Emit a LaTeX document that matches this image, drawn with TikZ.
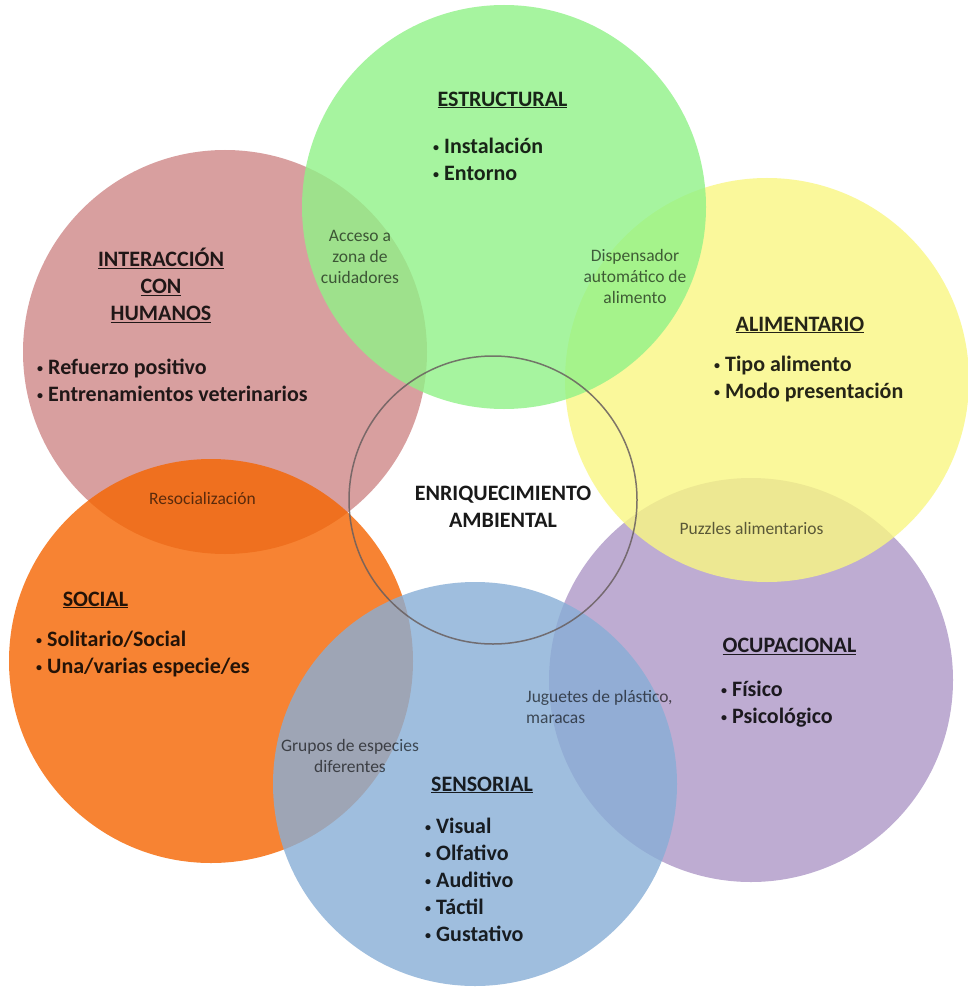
\documentclass[tikz,border=0pt]{standalone}
\usepackage{fontspec}
\setmainfont{Carlito}
\definecolor{cgreen}{RGB}{144,242,136}
\definecolor{cred}{RGB}{207,136,136}
\definecolor{cyellow}{RGB}{249,247,130}
\definecolor{corange}{RGB}{245,101,0}
\definecolor{cpurple}{RGB}{174,152,199}
\definecolor{cblue}{RGB}{136,174,214}
\definecolor{cline}{RGB}{105,95,95}
\newcommand{\bl}{\raisebox{2pt}{\fontsize{12}{12}\selectfont•}\hspace{5pt}}
\begin{document}
\begin{tikzpicture}[x=1pt,y=-1pt,
  blob/.style={circle, minimum size=404pt, inner sep=0pt, fill opacity=0.8},
  head/.style={font=\fontsize{22}{27}\selectfont\bfseries, text=black, text opacity=0.85, align=center},
  item/.style={font=\fontsize{22}{27}\selectfont\bfseries, text=black, text opacity=0.85, align=left, anchor=west, inner sep=0pt},
  note/.style={font=\fontsize{17.5}{21}\selectfont, text=black, text opacity=0.62, align=center}]
\useasboundingbox[fill=white] (0,0) rectangle (967,987);
\node[blob, fill=cred] (red) at (225,352) {};
\node[blob, fill=cpurple] (purple) at (751,680) {};
\node[blob, fill=cyellow] (yellow) at (767,380) {};
\node[blob, fill=cgreen] (green) at (504,207) {};
\node[blob, fill=corange] (orange) at (211,661) {};
\node[blob, fill=cblue] (blue) at (475,784) {};
\node[circle, minimum size=288pt, inner sep=0pt, draw=cline, draw opacity=0.85, line width=1.5pt] (core) at (493,500) {};

\node[head] (hE) at (502.5,100) {\underline{ESTRUCTURAL}};
\node[item] (iE) at (433,159.5) {\bl Instalación\\\bl Entorno};
\node[note] (nAc) at (360,257) {Acceso a\\zona de\\cuidadores};
\node[note] (nDi) at (635,276) {Dispensador\\automático de\\alimento};

\node[head] (hI) at (161,285) {\underline{INTERACCIÓN}\\\underline{CON}\\\underline{HUMANOS}};
\node[item] (iI) at (37,380.5) {\bl Refuerzo positivo\\\bl Entrenamientos veterinarios};

\node[head] (hA) at (800,325) {\underline{ALIMENTARIO}};
\node[item] (iA) at (714,379.5) {\bl Tipo alimento\\\bl Modo presentación};

\node[head, text opacity=0.9] (core text) at (503,506.5) {ENRIQUECIMIENTO\\AMBIENTAL};

\node[note] (nRe) at (202.5,498) {Resocialización};
\node[note] (nPu) at (751.5,528) {Puzzles alimentarios};

\node[head] (hS) at (95.5,600) {\underline{SOCIAL}};
\node[item] (iS) at (36,654) {\bl Solitario/Social\\\bl Una/varias especie/es};

\node[head] (hO) at (789.5,646) {\underline{OCUPACIONAL}};
\node[item] (iO) at (721,704) {\bl Físico\\\bl Psicológico};

\node[note, align=left, anchor=west, inner sep=0pt] (nJu) at (526,707) {Juguetes de plástico,\\maracas};
\node[note] (nGr) at (350,756) {Grupos de especies\\diferentes};

\node[head] (hSe) at (482,785) {\underline{SENSORIAL}};
\node[item] (iSe) at (425,880) {\bl Visual\\\bl Olfativo\\\bl Auditivo\\\bl Táctil\\\bl Gustativo};
\end{tikzpicture}
\end{document}
